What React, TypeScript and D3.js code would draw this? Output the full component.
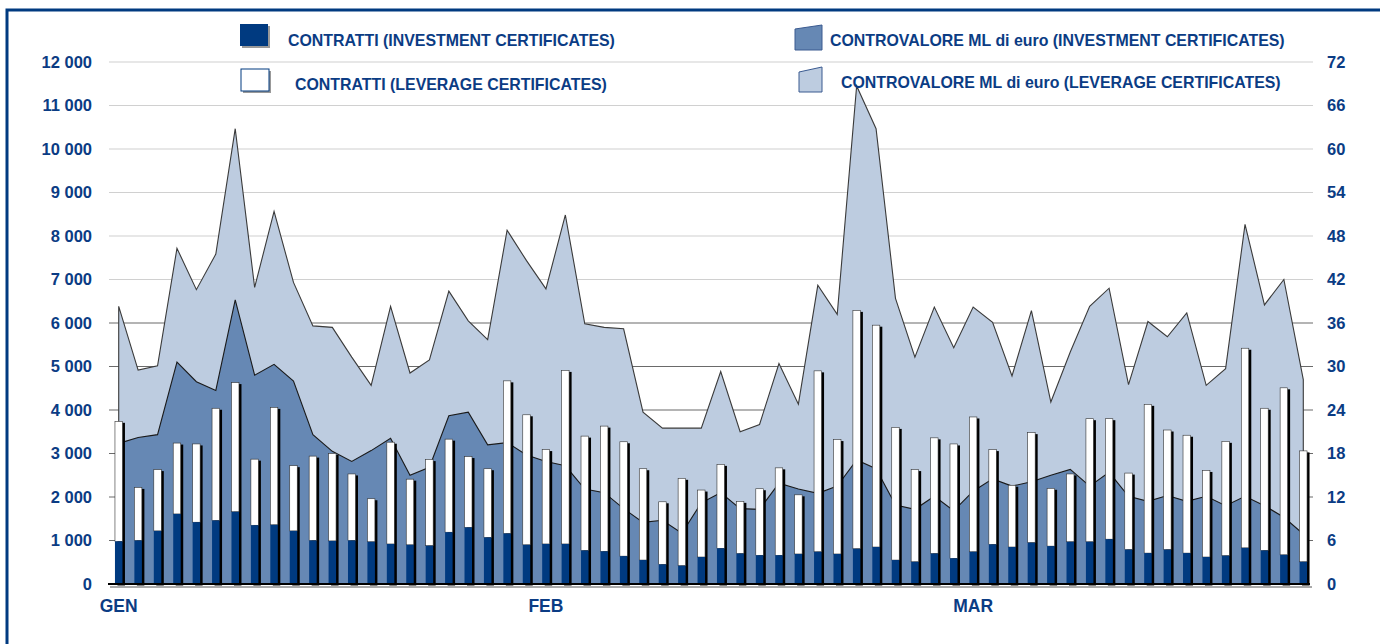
import React, { useEffect, useRef } from 'react';
import * as d3 from 'd3';

// contratti (left axis), one value per trading day Jan-Mar
const contrattiInvestment = [
  980, 1000, 1220, 1610, 1420, 1460, 1660, 1350, 1360, 1220, 1000, 990, 1000, 970, 920, 900, 880, 1190, 1300, 1070,
  1160, 900, 920, 920, 770, 750, 640, 550, 450, 420, 620, 820, 700, 660, 660, 690, 740, 690, 810, 850,
  550, 510, 700, 590, 740, 910, 850, 950, 870, 970, 970, 1030, 790, 710, 790, 710, 620, 650, 830, 770,
  670, 510,
];
const contrattiLeverage = [
  2760, 1220, 1410, 1630, 1800, 2580, 2970, 1520, 2700, 1500, 1940, 2010, 1530, 990, 2340, 1510, 1980, 2140, 1630, 1580,
  3510, 2990, 2170, 3990, 2630, 2880, 2630, 2100, 1440, 2010, 1540, 1930, 1200, 1530, 2010, 1360, 4160, 2630, 5480, 5100,
  3050, 2120, 2660, 2630, 3100, 2180, 1420, 2530, 1330, 1560, 2830, 2770, 1760, 3420, 2750, 2710, 1990, 2630, 4590, 3270,
  3840, 2550,
];
// controvalore ML di euro (right axis)
const controvaloreInvestment = [
  19.4, 20.2, 20.6, 30.6, 27.9, 26.7, 39.2, 28.8, 30.3, 28.0, 20.6, 18.3, 16.9, 18.4, 20.1, 15.0, 16.1, 23.2, 23.7, 19.2,
  19.5, 17.8, 16.9, 16.3, 13.1, 12.6, 10.4, 8.5, 8.8, 7.0, 11.2, 12.6, 10.4, 10.3, 13.9, 13.1, 12.5, 13.5, 17.1, 15.9,
  10.9, 10.3, 12.1, 10.1, 12.8, 14.5, 13.5, 14.1, 15.0, 15.8, 13.5, 15.4, 12.1, 11.4, 12.2, 11.4, 12.1, 10.8, 12.1, 10.8,
  9.2, 6.9,
];
const controvaloreLeverage = [
  38.3, 29.5, 30.1, 46.3, 40.6, 45.5, 62.8, 40.9, 51.4, 41.6, 35.6, 35.4, 31.3, 27.4, 38.3, 29.1, 30.9, 40.4, 36.3, 33.7,
  48.8, 44.6, 40.7, 50.9, 35.9, 35.4, 35.2, 23.7, 21.5, 21.5, 21.5, 29.3, 21.0, 22.0, 30.4, 24.8, 41.2, 37.2, 68.7, 62.8,
  39.4, 31.3, 38.2, 32.6, 38.2, 36.1, 28.7, 37.7, 25.1, 32.0, 38.3, 40.8, 27.5, 36.2, 34.1, 37.4, 27.4, 29.7, 49.6, 38.5,
  42.0, 28.2,
];

const leftTicks = [0, 1000, 2000, 3000, 4000, 5000, 6000, 7000, 8000, 9000, 10000, 11000, 12000];
const rightTicks = [0, 6, 12, 18, 24, 30, 36, 42, 48, 54, 60, 66, 72];
const monthLabels = ['GEN', 'FEB', 'MAR'];
const monthFirstDay = [0, 22, 44];

const NAVY = '#003a80';
const TEXT = '#0b3c84';
const DARK_AREA = '#6688b4';
const LIGHT_AREA = '#bdcce0';
const FONT = "'Liberation Sans', Arial, sans-serif";

const App = () => {
  const node = useRef<SVGSVGElement | null>(null);

  useEffect(() => {
    const svg = d3.select(node.current);
    svg.selectAll('*').remove();

    const days = d3.range(contrattiInvestment.length);
    const x = d3.scaleBand<number>().domain(days).range([109, 1313]);
    const cx = (i: number) => (x(i) as number) + x.bandwidth() / 2;
    const y = d3.scaleLinear().domain([0, 12000]).range([584, 62]);
    const y2 = d3.scaleLinear().domain([0, 72]).range([584, 62]);

    // frame
    svg.append('rect')
      .attr('x', 7).attr('y', 10).attr('width', 1400).attr('height', 700)
      .attr('fill', 'none').attr('stroke', NAVY).attr('stroke-width', 3);

    // gridlines
    svg.append('g').selectAll('line')
      .data(leftTicks.filter((t) => t > 0))
      .enter().append('line')
      .attr('x1', 109).attr('x2', 1313)
      .attr('y1', (d) => y(d)).attr('y2', (d) => y(d))
      .attr('stroke', (d) => (d <= 6000 ? '#6a6a6a' : '#d0d0d0'))
      .attr('stroke-width', 1.2);

    // areas
    const area = d3.area<number>()
      .x((_, i) => cx(i))
      .y0(y2(0))
      .y1((d) => y2(d));

    svg.append('path')
      .attr('d', area(controvaloreLeverage))
      .attr('fill', LIGHT_AREA).attr('stroke', '#3a3a3a').attr('stroke-width', 1.1);
    svg.append('path')
      .attr('d', area(controvaloreInvestment))
      .attr('fill', DARK_AREA).attr('stroke', '#1a1a1a').attr('stroke-width', 1.1);

    // stacked bars
    const rows = days.map((i) => ({ inv: contrattiInvestment[i], lev: contrattiLeverage[i] }));
    const stacked = d3.stack<{ inv: number; lev: number }>().keys(['inv', 'lev'])(rows);
    const bw = 7.5;
    const bars = svg.append('g');

    bars.selectAll('.shadow')
      .data(stacked[1])
      .enter().append('rect')
      .attr('class', 'shadow')
      .attr('x', (_, i) => cx(i) - bw / 2 + 2.5)
      .attr('y', (d) => y(d[1]) + 1.5)
      .attr('width', bw)
      .attr('height', (d) => y(0) - y(d[1]))
      .attr('fill', '#000');

    bars.selectAll('.lev')
      .data(stacked[1])
      .enter().append('rect')
      .attr('class', 'lev')
      .attr('x', (_, i) => cx(i) - bw / 2)
      .attr('y', (d) => y(d[1]))
      .attr('width', bw)
      .attr('height', (d) => y(d[0]) - y(d[1]))
      .attr('fill', '#fff').attr('stroke', '#333').attr('stroke-width', 0.6);

    bars.selectAll('.inv')
      .data(stacked[0])
      .enter().append('rect')
      .attr('class', 'inv')
      .attr('x', (_, i) => cx(i) - bw / 2)
      .attr('y', (d) => y(d[1]))
      .attr('width', bw)
      .attr('height', (d) => y(d[0]) - y(d[1]))
      .attr('fill', NAVY);

    // baseline
    svg.append('line')
      .attr('x1', 110).attr('x2', 1312).attr('y1', 587).attr('y2', 587)
      .attr('stroke', '#aaa').attr('stroke-width', 2);
    svg.append('line')
      .attr('x1', 108).attr('x2', 1310).attr('y1', 584).attr('y2', 584)
      .attr('stroke', '#000').attr('stroke-width', 2);

    const label = (g: d3.Selection<SVGGElement, unknown, null, undefined>) =>
      g.attr('font-family', FONT).attr('font-weight', 'bold').attr('fill', TEXT);

    // left axis
    svg.append('g').call(label).attr('font-size', 16.5).attr('text-anchor', 'end')
      .selectAll('text').data(leftTicks).enter().append('text')
      .attr('x', 92).attr('y', (d) => y(d)).attr('dy', '0.36em')
      .text((d) => d3.format(',')(d).replace(',', ' '));

    // right axis
    svg.append('g').call(label).attr('font-size', 16.5).attr('text-anchor', 'start')
      .selectAll('text').data(rightTicks).enter().append('text')
      .attr('x', 1327).attr('y', (d) => y2(d)).attr('dy', '0.36em')
      .text((d) => d);

    // months
    svg.append('g').call(label).attr('font-size', 17.5).attr('text-anchor', 'middle')
      .selectAll('text').data(monthLabels).enter().append('text')
      .attr('x', (_, i) => cx(monthFirstDay[i])).attr('y', 612)
      .text((d) => d);

    // legend
    const lg = svg.append('g');
    lg.append('rect').attr('x', 242).attr('y', 26).attr('width', 28).attr('height', 22).attr('fill', '#999');
    lg.append('rect').attr('x', 240).attr('y', 24).attr('width', 28).attr('height', 22).attr('fill', NAVY);
    lg.append('rect').attr('x', 243).attr('y', 71).attr('width', 28).attr('height', 22).attr('fill', '#999');
    lg.append('rect').attr('x', 241).attr('y', 69).attr('width', 28).attr('height', 22)
      .attr('fill', '#fff').attr('stroke', NAVY).attr('stroke-width', 1);
    lg.append('polygon').attr('points', '795,29 822,25 822,50 795,50')
      .attr('fill', DARK_AREA).attr('stroke', '#3a5a90').attr('stroke-width', 1);
    lg.append('polygon').attr('points', '799,72 822,67 822,92 799,92')
      .attr('fill', LIGHT_AREA).attr('stroke', '#3a5a90').attr('stroke-width', 1);

    const legendText = [
      { t: 'CONTRATTI (INVESTMENT CERTIFICATES)', x: 288, y: 40 },
      { t: 'CONTRATTI (LEVERAGE CERTIFICATES)', x: 295, y: 84 },
      { t: 'CONTROVALORE ML di euro (INVESTMENT CERTIFICATES)', x: 830, y: 40 },
      { t: 'CONTROVALORE ML di euro (LEVERAGE CERTIFICATES)', x: 841, y: 82 },
    ];
    lg.append('g').call(label).attr('font-size', 15.9)
      .selectAll('text').data(legendText).enter().append('text')
      .attr('x', (d) => d.x).attr('y', (d) => d.y).attr('dy', '0.36em')
      .text((d) => d.t);
  }, []);

  return (
    <svg ref={node} width={1380} height={644}
      style={{ position: 'absolute', left: 0, top: 0, background: '#fff' }} />
  );
};

export default App;
